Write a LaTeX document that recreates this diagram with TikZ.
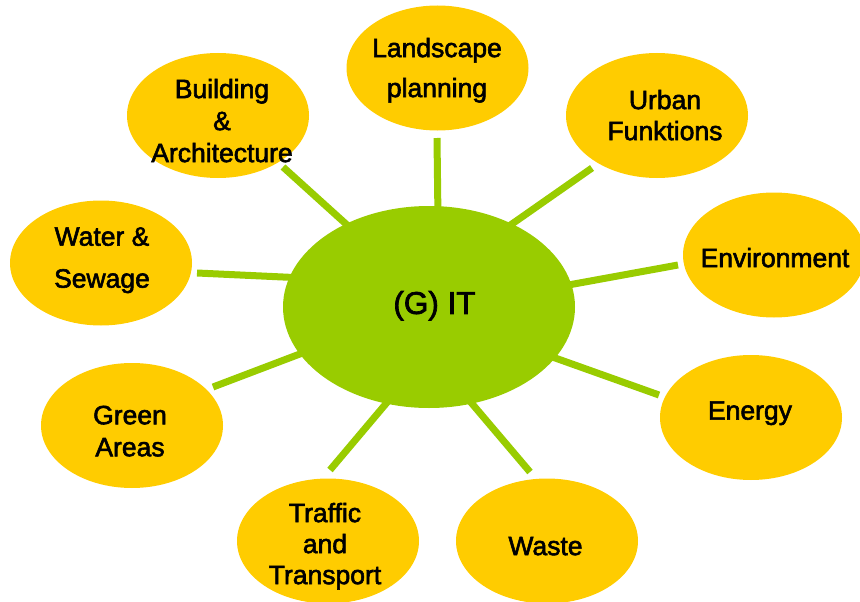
\documentclass[tikz,border=0pt]{standalone}
\usepackage{fontspec}
\setmainfont{Liberation Sans}
\newfontfamily\heavyfont{Liberation Sans}[FakeBold=2.2]
\pgfdeclarelayer{bg}
\pgfsetlayers{bg,main}
\definecolor{satcol}{HTML}{FFCC00}
\definecolor{hubcol}{HTML}{99CC00}
\tikzset{
  sat/.style={ellipse, fill=satcol, draw=none, minimum width=182pt, minimum height=125pt, inner sep=0pt},
  hub/.style={ellipse, fill=hubcol, draw=none, minimum width=292pt, minimum height=202pt, inner sep=0pt},
  lbl/.style={align=center, inner sep=0pt, text depth=0pt, font=\heavyfont\fontsize{26.5}{#1}\selectfont},
  lbl/.default=31.5,
  conn/.style={draw=hubcol, line width=7pt, line cap=butt, shorten <=-8pt},
}
\usetikzlibrary{shapes.geometric}
\begin{document}
\begin{tikzpicture}[x=1pt,y=-1pt]
\useasboundingbox (0,0) rectangle (860,602);
% hub
\node[hub] (g) at (429,307) {};
\node[inner sep=0pt, text depth=0pt, font=\heavyfont\fontsize{31.5}{36}\selectfont] (gt) at (434.5,302.5) {(G) IT};
% satellites
\node[sat] (land) at (437.5,68) {};
\node[sat] (build) at (218,115.5) {};
\node[sat] (urban) at (657,115.5) {};
\node[sat] (water) at (101,263) {};
\node[sat] (green) at (132,425.5) {};
\node[sat] (env) at (774,255) {};
\node[sat] (energy) at (751,417.5) {};
\node[sat] (traffic) at (328,541) {};
\node[sat] (waste) at (547,541) {};
% texts
\node[lbl=40] (landt) at (437,67.5) {Landscape\\planning};
\node[lbl=32] (buildt) at (222,120.5) {Building\\\&\\Architecture};
\node[lbl=31] (urbant) at (665,115) {Urban\\Funktions};
\node[lbl=42] (watert) at (102,257.5) {Water \&\\Sewage};
\node[lbl=32] (greent) at (130,431) {Green\\Areas};
\node[lbl] (envt) at (775,257.5) {Environment};
\node[lbl] (energyt) at (750,410.5) {Energy};
\node[lbl=31] (traffict) at (325,543.5) {Traffic\\and\\Transport};
\node[lbl] (wastet) at (545.5,546) {Waste};
% free ends of connectors
\coordinate (eland) at (437,138);
\coordinate (ebuild) at (283,167);
\coordinate (eurban) at (592,168);
\coordinate (eenv) at (678,265);
\coordinate (eenergy) at (659,395);
\coordinate (ewaste) at (530,472);
\coordinate (etraffic) at (330,470);
\coordinate (egreen) at (213,387);
\coordinate (ewater) at (197,273);
\begin{pgfonlayer}{bg}
\draw[conn] (g.85.45) -- (eland);
\draw[conn] (g.135) -- (ebuild);
\draw[conn] (g.45) -- (eurban);
\draw[conn] (g.9) -- (eenv);
\draw[conn] (g.-22) -- (eenergy);
\draw[conn] (g.-66) -- (ewaste);
\draw[conn] (g.-114.5) -- (etraffic);
\draw[conn] (g.-160) -- (egreen);
\draw[conn] (g.168.5) -- (ewater);
\end{pgfonlayer}
\end{tikzpicture}
\end{document}
